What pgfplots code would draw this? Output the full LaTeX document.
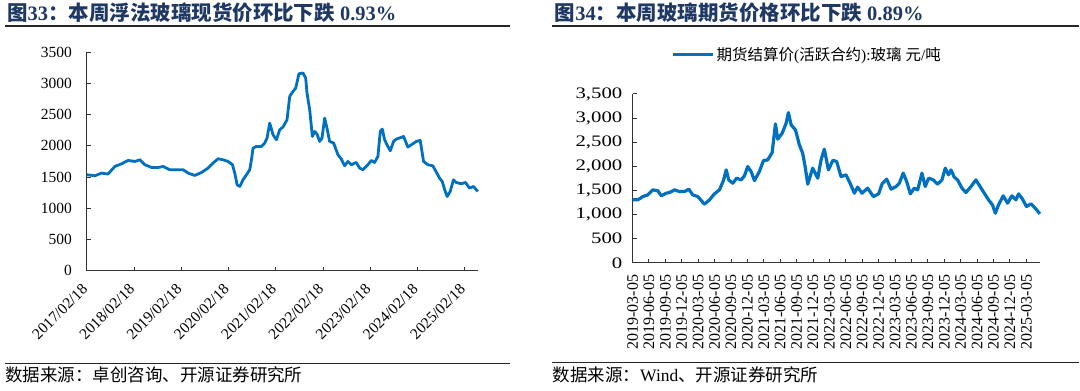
\documentclass[border=0pt]{standalone}
\usepackage{fontspec}
\setmainfont{Liberation Serif}
\newfontfamily\cjk{Noto Sans CJK SC}
\usepackage{graphicx}
\usepackage{pgfplots}
\pgfplotsset{compat=1.18}
\definecolor{lineblue}{HTML}{0070C0}
\definecolor{titleblue}{HTML}{1F3864}

\pgfplotstableread{
t v
0 1536
0.169 1520
0.311 1563
0.444 1547
0.592 1669
0.734 1712
0.873 1765
1.015 1749
1.121 1776
1.226 1696
1.368 1653
1.507 1653
1.613 1669
1.755 1616
1.896 1616
2.036 1616
2.142 1563
2.283 1525
2.425 1573
2.564 1643
2.670 1723
2.776 1792
2.882 1776
2.987 1749
3.080 1696
3.129 1563
3.178 1376
3.235 1349
3.304 1456
3.376 1536
3.446 1616
3.482 1776
3.516 1963
3.588 1989
3.693 1989
3.763 2043
3.812 2123
3.869 2363
3.939 2176
4.011 2096
4.080 2256
4.150 2299
4.235 2416
4.292 2789
4.362 2869
4.419 2923
4.488 3152
4.573 3163
4.630 3083
4.658 2843
4.715 2576
4.772 2149
4.820 2229
4.869 2187
4.926 2069
4.975 2123
5.032 2443
5.080 2283
5.137 2069
5.222 2043
5.313 1856
5.385 1787
5.455 1680
5.524 1749
5.596 1696
5.702 1733
5.772 1643
5.841 1616
5.947 1696
6.019 1765
6.089 1733
6.159 1829
6.209 2229
6.252 2267
6.300 2096
6.370 1989
6.421 1920
6.490 2069
6.548 2107
6.653 2133
6.702 2149
6.793 1979
6.865 2016
6.970 2069
7.055 2085
7.125 1749
7.216 1696
7.321 1680
7.406 1563
7.463 1483
7.520 1429
7.584 1269
7.626 1189
7.689 1269
7.759 1456
7.816 1413
7.922 1392
8.013 1413
8.097 1323
8.182 1349
8.273 1269
}\spotdata

\pgfplotstableread{
q v
0 1305
0.32 1305
0.63 1373
0.93 1408
1.24 1512
1.55 1491
1.75 1388
2.05 1443
2.25 1456
2.56 1512
2.86 1477
3.17 1477
3.43 1526
3.67 1408
3.98 1373
4.38 1215
4.69 1305
4.99 1429
5.30 1512
5.54 1705
5.71 1926
5.86 1719
6.11 1650
6.35 1754
6.62 1719
6.82 1802
7.02 1995
7.23 1891
7.43 1705
7.73 1891
7.98 2119
8.24 2133
8.51 2284
8.71 2879
8.85 2562
9.12 2686
9.36 2893
9.50 3113
9.67 2858
9.93 2755
10.17 2444
10.37 2272
10.52 1995
10.68 1630
10.98 1961
11.29 1754
11.49 2133
11.69 2355
11.94 1926
12.21 2125
12.44 2098
12.71 1787
13.01 1823
13.26 1650
13.52 1443
13.72 1568
13.99 1443
14.33 1547
14.68 1373
15.00 1429
15.21 1636
15.49 1733
15.76 1526
16.06 1581
16.26 1650
16.50 1858
16.71 1684
16.93 1429
17.17 1547
17.38 1512
17.64 1858
17.84 1581
18.05 1754
18.33 1719
18.59 1630
18.86 1719
19.06 1961
19.26 1823
19.41 1926
19.61 1775
19.81 1719
20.08 1547
20.32 1456
20.63 1581
20.93 1719
21.18 1581
21.44 1443
21.70 1305
21.94 1201
22.11 1029
22.31 1201
22.59 1388
22.86 1236
23.12 1388
23.37 1305
23.53 1429
23.77 1319
24.01 1166
24.28 1222
24.54 1133
24.83 1015
}\futdata

\pgfplotsset{
  mystyle/.style={
    scale only axis,
    clip=false,
    axis x line*=bottom,
    axis y line*=left,
    axis line style={black!80, line width=0.9pt},
    tick align=inside,
    major tick length=4pt,
    tick style={black!80, line width=0.9pt},
    ymin=0, ymax=3500, ytick={0,500,...,3500},
    /pgf/number format/assume math mode=true,
  }
}

\begin{document}
\begin{tikzpicture}
\path (0pt,0pt) rectangle (1080pt,-391pt);

% titles
\node[anchor=base west, inner sep=0pt, text=titleblue, font=\fontsize{20.5}{24}\selectfont\bfseries] at (7pt,-21pt)
  {{\cjk 图}33{\cjk ：本周浮法玻璃现货价环比下跌} 0.93\%};
\draw[line width=1.6pt, black!85] (5pt,-26pt) -- (510pt,-26pt);
\node[anchor=base west, inner sep=0pt, text=titleblue, font=\fontsize{20.5}{24}\selectfont\bfseries] at (555pt,-21pt)
  {{\cjk 图}34{\cjk ：本周玻璃期货价格环比下跌} 0.89\%};
\draw[line width=1.6pt, black!85] (552pt,-26pt) -- (1080pt,-26pt);

% sources
\draw[line width=1pt, black!85] (5pt,-364pt) -- (510pt,-364pt);
\draw[line width=1pt, black!85] (552pt,-363pt) -- (1080pt,-363pt);
\node[anchor=base west, inner sep=0pt, font=\fontsize{17.5}{20}\selectfont] at (5pt,-382pt)
  {{\cjk 数据来源：卓创咨询、开源证券研究所}};
\node[anchor=base west, inner sep=0pt, font=\fontsize{17.5}{20}\selectfont] at (553pt,-382pt)
  {{\cjk 数据来源：}Wind{\cjk 、开源证券研究所}};

% left chart
\begin{axis}[mystyle,
  at={(87pt,-271pt)}, anchor=south west,
  width=391pt, height=219pt,
  xmin=0, xmax=8.27,
  xtick={0,1,2,3,4,5,6,7,8},
  xticklabels={2017/02/18,2018/02/18,2019/02/18,2020/02/18,2021/02/18,2022/02/18,2023/02/18,2024/02/18,2025/02/18},
  xticklabel style={font=\fontsize{15.5}{18}\selectfont, inner sep=0pt, xshift=-6pt, yshift=-12pt, rotate=45, anchor=north east},
  yticklabel style={font=\fontsize{15.5}{18}\selectfont, inner sep=0pt, xshift=-15pt, anchor=east},
  /pgf/number format/1000 sep={},
]
\addplot[line width=2.8pt, lineblue, line join=round] table[x=t, y=v] {\spotdata};
\end{axis}

% right chart
\begin{axis}[mystyle,
  at={(633pt,-263pt)}, anchor=south west,
  width=408pt, height=169pt,
  xmin=0, xmax=24.85,
  xtick={0,1,...,24},
  xticklabels={2019-03-05,2019-06-05,2019-09-05,2019-12-05,2020-03-05,2020-06-05,2020-09-05,2020-12-05,2021-03-05,2021-06-05,2021-09-05,2021-12-05,2022-03-05,2022-06-05,2022-09-05,2022-12-05,2023-03-05,2023-06-05,2023-09-05,2023-12-05,2024-03-05,2024-06-05,2024-09-05,2024-12-05,2025-03-05},
  xticklabel style={font=\fontsize{16}{18}\selectfont, inner sep=0pt, yshift=-12pt, rotate=90, anchor=east},
  yticklabel style={font=\fontsize{16}{18}\selectfont, inner sep=0pt, xshift=-10pt, anchor=east},
  yticklabel={\scalebox{1.3}[1]{\pgfmathprintnumber[1000 sep={,}]{\tick}}},
  legend style={at={(0.0956,1.231)}, anchor=west, draw=none, fill=none, inner sep=0pt,
    font=\fontsize{15.5}{18}\selectfont},
  legend image code/.code={\draw[line width=3pt, lineblue] (0pt,0pt) -- (40pt,0pt);},
]
\addplot[line width=3.2pt, lineblue, line join=round] table[x=q, y=v] {\futdata};
\addlegendentry{{\cjk 期货结算价}({\cjk 活跃合约}):{\cjk 玻璃} {\cjk 元}/{\cjk 吨}}
\end{axis}
\end{tikzpicture}
\end{document}
